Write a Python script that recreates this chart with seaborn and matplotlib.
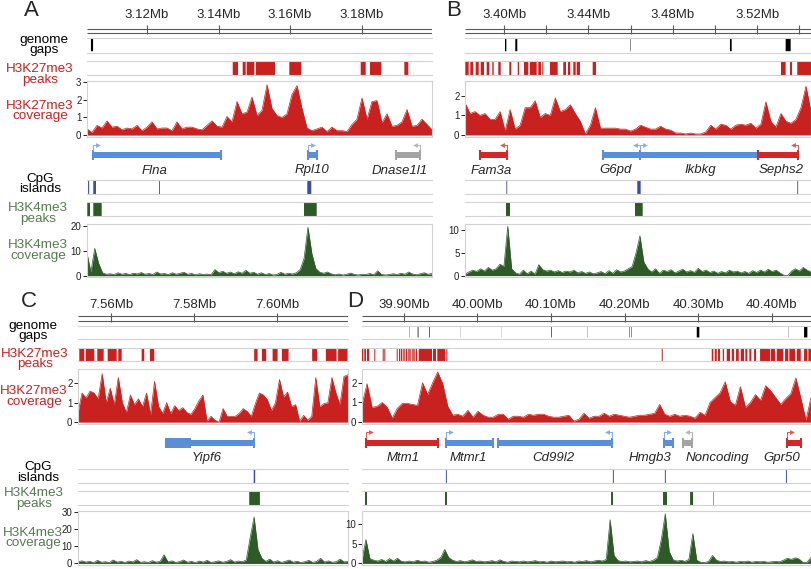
import numpy as np
import matplotlib
matplotlib.use("Agg")
import matplotlib.pyplot as plt
from matplotlib.patches import Rectangle
import seaborn as sns

# ---------------- data (positions in Mb) ----------------
a_window = (3.1032, 3.1997)
b_window = (3.3815, 3.5455)
c_window = (7.5520, 7.6171)
d_window = (39.8429, 40.4537)

a_ticks = [3.12, 3.14, 3.16, 3.18]
a_tick_labels = ["3.12Mb", "3.14Mb", "3.16Mb", "3.18Mb"]
b_ticks = [3.40, 3.42, 3.44, 3.46, 3.48, 3.50, 3.52, 3.54]
b_tick_labels = ["3.40Mb", "", "3.44Mb", "", "3.48Mb", "", "3.52Mb", ""]
c_ticks = [7.56, 7.58, 7.60]
c_tick_labels = ["7.56Mb", "7.58Mb", "7.60Mb"]
d_ticks = [39.90, 40.00, 40.10, 40.20, 40.30, 40.40]
d_tick_labels = ["39.90Mb", "40.00Mb", "40.10Mb", "40.20Mb", "40.30Mb", "40.40Mb"]

# genome gaps
a_gap_start = [3.1043]
a_gap_end = [3.1049]
b_gap_start = [3.40046, 3.40534, 3.45984, 3.50709, 3.53349]
b_gap_end = [3.40110, 3.40629, 3.46004, 3.50789, 3.53586]
c_gap_start = []
c_gap_end = []
d_gap_start = [39.90725, 39.91868, 39.93447, 39.97718, 40.03297, 40.10004, 40.14997,
               40.20657, 40.20888, 40.29827, 40.42290, 40.44426]
d_gap_end = [39.90765, 39.91968, 39.93527, 39.97738, 40.03317, 40.10084, 40.15027,
             40.20717, 40.20948, 40.30181, 40.42320, 40.44875]

# H3K27me3 peaks
a_k27_peak_start = [3.14396, 3.14675, 3.14787, 3.15047, 3.15979, 3.17976, 3.18236, 3.19196]
a_k27_peak_end = [3.14544, 3.14759, 3.15000, 3.15579, 3.16314, 3.18116, 3.18552, 3.19307]
b_k27_peak_start = [3.38164, 3.38401, 3.38657, 3.38894, 3.39178, 3.39444, 3.39728, 3.40250,
                    3.40648, 3.40946, 3.41231, 3.41624, 3.41813, 3.42178, 3.42809, 3.43031,
                    3.43283, 3.43444, 3.44202, 3.53126, 3.53553, 3.53899]
b_k27_peak_end = [3.38325, 3.38543, 3.38799, 3.39050, 3.39302, 3.39510, 3.39842, 3.40344,
                  3.40709, 3.41150, 3.41548, 3.41752, 3.41861, 3.42543, 3.42937, 3.43140,
                  3.43396, 3.43600, 3.44358, 3.53349, 3.53648, 3.54582]
c_k27_peak_start = [7.55231, 7.55386, 7.55665, 7.55916, 7.56171, 7.56735, 7.56935, 7.59448,
                    7.59634, 7.59892, 7.60116, 7.60846, 7.61176, 7.61472]
c_k27_peak_end = [7.55352, 7.55593, 7.55819, 7.56133, 7.56253, 7.56798, 7.57039, 7.59530,
                  7.59737, 7.60012, 7.60277, 7.60966, 7.61434, 7.61699]
d_k27_peak_start = [39.8429, 39.84603, 39.8497, 39.85963, 39.87106, 39.87324, 39.89011, 39.89324,
                    39.89596, 39.89827, 39.90045, 39.90276, 39.90508, 39.90725, 39.91052, 39.9127,
                    39.91596, 39.92004, 39.9395, 39.94535, 39.95759, 40.25066, 40.31868, 40.32276,
                    40.32725, 40.33365, 40.3391, 40.34589, 40.35174, 40.35814, 40.3644, 40.36984,
                    40.37623, 40.3844, 40.39895, 40.40712, 40.41841, 40.42426, 40.43433, 40.44426,
                    40.45011]
d_k27_peak_end = [39.84467, 39.84834, 39.85283, 39.861, 39.87242, 39.8746, 39.89147, 39.89501,
                  39.89732, 39.89963, 39.90181, 39.90412, 39.90644, 39.90916, 39.91188, 39.9146,
                  39.91773, 39.93814, 39.94358, 39.95623, 39.95895, 40.25202, 40.32086, 40.32549,
                  40.32997, 40.33542, 40.34358, 40.34902, 40.35542, 40.36263, 40.36712, 40.37256,
                  40.37895, 40.398, 40.4048, 40.4161, 40.4229, 40.43202, 40.43977, 40.44875,
                  40.45378]

# H3K27me3 coverage (evenly spaced bins across each window)
a_k27_cov = [0.35, 0.15, 0.55, 0.4, 0.8, 0.45, 0.5, 0.3, 0.4, 0.35,
             0.55, 0.25, 0.45, 0.75, 0.35, 0.4, 0.4, 0.25, 0.75, 0.35,
             0.45, 0.45, 0.35, 0.3, 0.55, 0.8, 0.5, 0.45, 1.05, 0.75,
             1.9, 1.2, 1.3, 2.15, 1.1, 1.4, 2.85, 1.5, 1.1, 1.0,
             1.2, 2.3, 2.8, 1.5, 0.4, 0.25, 0.35, 0.45, 0.2, 0.45,
             0.25, 0.25, 0.2, 0.6, 0.9, 2.1, 0.9, 1.9, 1.95, 0.7,
             1.2, 0.5, 0.55, 0.75, 1.45, 0.5, 0.55, 0.9, 0.6, 0.3]
b_k27_cov = [1.65, 1.1, 1.2, 1.0, 1.1, 0.8, 0.8, 1.2, 0.2, 1.3,
             0.3, 0.5, 1.4, 1.4, 1.75, 0.9, 1.1, 1.0, 1.9, 1.2,
             1.3, 1.55, 1.1, 0.7, 0.05, 0.5, 1.4, 0.35, 0.35, 0.35,
             0.35, 0.3, 0.3, 0.2, 0.3, 0.5, 0.4, 0.3, 0.3, 0.45,
             0.3, 0.25, 0.1, 0.1, 0.05, 0.1, 0.05, 0.05, 0.15, 0.5,
             0.3, 0.55, 0.5, 0.3, 0.5, 0.55, 0.5, 0.6, 0.35, 0.55,
             1.7, 0.7, 0.4, 1.1, 0.7, 0.6, 0.8, 1.4, 2.5, 1.2]
c_k27_cov = [0.5, 1.5, 1.25, 1.6, 1.5, 1.2, 2.5, 1.0, 1.75, 0.9,
             2.3, 1.0, 0.5, 1.4, 0.9, 1.2, 0.8, 1.5, 0.4, 2.1,
             0.8, 0.45, 1.0, 0.45, 0.85, 0.6, 0.75, 0.5, 0.4, 0.7,
             1.1, 1.4, 0.05, 0.3, 0.1, 0.0, 0.7, 0.3, 0.3, 0.3,
             0.45, 0.7, 0.55, 0.3, 0.95, 1.5, 1.4, 1.15, 0.6, 1.0,
             2.2, 1.3, 1.55, 0.8, 0.9, 0.05, 0.35, 0.1, 0.3, 2.3,
             0.8, 0.95, 1.0, 2.3, 1.5, 0.9, 2.35, 2.45]
d_k27_cov = [0.9, 1.95, 0.75, 0.8, 1.0, 0.75, 0.2, 0.7, 0.95, 0.95,
             0.9, 0.85, 2.0, 1.4, 2.0, 2.55, 1.95, 0.8, 0.35, 0.4,
             0.3, 0.6, 0.25, 0.55, 0.35, 0.25, 0.25, 0.4, 0.4, 0.15,
             0.3, 0.3, 0.25, 0.4, 0.35, 0.4, 0.4, 0.3, 0.25, 0.25,
             0.3, 0.35, 0.05, 0.15, 0.45, 0.2, 0.3, 0.3, 0.45, 0.3,
             0.4, 0.35, 0.3, 0.25, 0.3, 0.35, 0.35, 0.4, 0.45, 0.9,
             0.4, 0.3, 0.4, 0.3, 0.35, 0.3, 0.2, 0.5, 0.35, 1.0,
             1.25, 1.5, 2.05, 1.05, 0.85, 1.8, 0.75, 1.0, 1.4, 1.1,
             1.85, 1.6, 1.25, 0.9, 1.2, 1.45, 2.25, 1.2, 0.1, 1.25]

# genes
a_gene_name = ["Flna", "Rpl10", "Dnase1l1"]
a_gene_start = [3.10496, 3.16511, 3.18955]
a_gene_end = [3.14060, 3.16745, 3.19635]
a_gene_strand = [1, 1, -1]
a_gene_group = ["blue", "blue", "grey"]
a_gene_label_pos = [3.12222, 3.16605, 3.19075]
b_gene_name = ["Fam3a", "G6pd", "Ikbkg", "Sephs2"]
b_gene_start = [3.38861, 3.44676, 3.46444, 3.52051]
b_gene_end = [3.40126, 3.46444, 3.52051, 3.53947]
b_gene_strand = [-1, -1, 1, -1]
b_gene_group = ["red", "blue", "blue", "red"]
b_gene_label_pos = [3.39415, 3.45292, 3.49288, 3.53112]
c_gene_name = ["Yipf6"]
c_gene_start = [7.57320]
c_gene_end = [7.59448]
c_gene_strand = [-1]
c_gene_group = ["blue"]
c_gene_label_pos = [7.58301]
c_utr_start = [7.57320]
c_utr_end = [7.57923]
d_gene_name = ["Mtm1", "Mtmr1", "Cd99l2", "Hmgb3", "Noncoding", "Gpr50"]
d_gene_start = [39.84834, 39.95719, 40.02793, 40.25378, 40.27963, 40.42113]
d_gene_end = [39.94630, 40.02113, 40.18304, 40.26603, 40.29188, 40.44018]
d_gene_strand = [1, 1, -1, 1, -1, 1]
d_gene_group = ["red", "blue", "blue", "blue", "grey", "red"]
d_gene_label_pos = [39.89868, 39.98712, 40.10276, 40.23474, 40.32589, 40.41433]

# CpG islands
a_cpg_start = [3.10350, 3.10496, 3.12338, 3.16482]
a_cpg_end = [3.10380, 3.10572, 3.12362, 3.16594]
b_cpg_start = [3.40110, 3.46316, 3.53900]
b_cpg_end = [3.40150, 3.46476, 3.53940]
c_cpg_start = [7.59436]
c_cpg_end = [7.59472]
d_cpg_start = [39.95700, 40.18420, 40.25490, 40.41960]
d_cpg_end = [39.95830, 40.18550, 40.25620, 40.42090]

# H3K4me3 peaks
a_k4_peak_start = [3.10328, 3.10496, 3.16390]
a_k4_peak_end = [3.10404, 3.10731, 3.16745]
b_k4_peak_start = [3.40093, 3.46207]
b_k4_peak_end = [3.40283, 3.46572]
c_k4_peak_start = [7.59328]
c_k4_peak_end = [7.59586]
d_k4_peak_start = [39.84700, 39.95580, 40.18170, 40.25240, 40.28920, 40.32040]
d_k4_peak_end = [39.84970, 39.95850, 40.18440, 40.25780, 40.29330, 40.32110]

# H3K4me3 coverage
a_k4_cov = [9, 1.5, 11, 5, 1.2, 0.6, 0.8, 0.5, 1.2, 0.6,
            0.9, 0.5, 1.0, 0.7, 1.3, 0.6, 0.9, 0.5, 1.5, 0.7,
            0.9, 0.5, 1.2, 0.6, 1.0, 1.4, 0.6, 0.9, 0.4, 0.8,
            0.5, 0.7, 0.4, 2.5, 1.2, 1.8, 1.0, 1.5, 0.8, 1.6,
            1.0, 2.2, 1.0, 1.4, 0.6, 1.2, 0.5, 0.9, 0.3, 0.5,
            1.4, 0.6, 1.0, 0.7, 1.2, 2.5, 7, 19.5, 9, 3,
            1.5, 1.0, 1.5, 0.8, 0.4, 0.7, 0.3, 0.6, 1.1, 0.5,
            0.3, 0.6, 0.5, 0.9, 0.4, 2.0, 0.5, 0.3, 0.5, 0.8,
            0.5, 1.0, 0.6, 1.5, 0.7, 0.4, 0.8, 1.2, 0.6, 0.9]
b_k4_cov = [0.3, 0.8, 1.2, 0.9, 1.5, 1.0, 1.8, 1.2, 1.5, 2.5,
            2.0, 10.8, 1.5, 0.6, 0.3, 1.2, 0.4, 1.0, 0.3, 2.4,
            1.3, 1.0, 1.2, 0.8, 1.1, 0.7, 1.0, 0.8, 1.2, 0.6,
            0.9, 0.5, 0.8, 0.4, 0.6, 0.9, 0.4, 1.1, 0.5, 1.3,
            0.8, 1.0, 1.5, 2.0, 5.0, 8.7, 3.0, 1.5, 0.8, 1.5,
            0.5, 1.2, 0.9, 1.3, 0.6, 1.0, 1.4, 0.8, 1.1, 0.7,
            1.6, 0.9, 1.2, 0.7, 1.0, 0.5, 0.9, 0.6, 1.2, 0.8,
            1.0, 0.6, 0.9, 0.5, 1.1, 0.7, 1.2, 0.8, 1.4, 0.9,
            1.2, 0.6, 0.1, 0.0, 1.0, 1.5, 1.0, 1.8, 1.2, 0.8]
c_k4_cov = [1.0, 1.5, 0.8, 1.2, 0.5, 1.8, 0.7, 1.0, 0.5, 2.0,
            0.8, 1.2, 0.6, 1.4, 0.9, 2.2, 0.7, 1.0, 0.5, 1.6,
            0.8, 1.2, 5.0, 0.9, 1.5, 0.6, 1.1, 2.0, 0.7, 1.2,
            0.5, 1.4, 0.8, 1.8, 0.6, 1.0, 1.5, 0.7, 1.2, 2.2,
            0.8, 1.4, 1.0, 2.0, 15, 27, 8, 3.0, 1.2, 2.5,
            0.8, 1.6, 0.6, 1.2, 2.0, 0.7, 1.3, 0.5, 1.0, 1.8,
            0.6, 1.2, 3.0, 0.8, 1.5, 0.7, 1.0, 2.5, 0.9, 1.2]
d_k4_cov = [1.0, 6.0, 1.2, 0.8, 0.6, 1.0, 0.5, 1.2, 0.6, 1.3,
            0.5, 0.4, 0.6, 0.4, 0.8, 0.5, 0.6, 0.3, 0.5, 0.8,
            1.5, 3.5, 1.5, 0.8, 0.5, 0.7, 0.4, 0.6, 0.9, 0.5,
            0.6, 0.4, 0.5, 0.7, 0.4, 0.9, 0.5, 0.3, 0.6, 0.5,
            0.4, 0.6, 0.4, 0.5, 0.7, 0.4, 0.5, 0.3, 0.6, 0.4,
            0.5, 0.6, 0.4, 0.5, 0.3, 0.6, 0.5, 0.7, 0.4, 0.6,
            0.8, 0.6, 1.0, 11.0, 2.0, 0.7, 0.5, 0.6, 0.4, 0.5,
            0.6, 0.4, 0.7, 0.5, 0.8, 1.5, 6.0, 12.5, 3.0, 0.9,
            0.6, 0.8, 0.5, 1.0, 7.5, 0.8, 0.3, 0.2, 0.5, 2.0,
            0.8, 0.5, 0.6, 0.4, 0.5, 0.3, 0.5, 0.4, 0.6, 0.3,
            0.5, 0.4, 0.5, 0.3, 0.4, 0.5, 0.4, 0.8, 1.3, 1.0,
            1.4, 1.1, 0.2, 0.3, 1.5]

# ---------------- style ----------------
RED = "#c8211f"
GREEN = "#2e5a28"
GREEN_TXT = "#557b50"
CPG = "#3c4ca4"
FRAME = "#d2d2d2"
RULER = "#5a5a5a"
GENE_COLORS = {"blue": "#5b8ed6", "red": "#cc2a2a", "grey": "#a3a3a3"}
ARROW_COLORS = {"blue": "#8aaee0", "red": "#d95c5c", "grey": "#b8b8b8"}

W, H = 812, 569
sns.set_theme(style="ticks")
plt.rcParams["font.family"] = ["Liberation Sans", "DejaVu Sans"]

fig = plt.figure(figsize=(W / 100, H / 100), dpi=100)

ROWS = {
    "top": dict(ruler=(5, 36), rl=(28.5, 32.5), tick=(25, 33.5), tlab=15.5,
                gaps=(38, 53), k27p=(61, 75), k27c=(81, 136.5), genes=(138, 178),
                cpg=(180, 194), k4p=(202, 216), k4c=(224, 277)),
    "bottom": dict(ruler=(292, 324), rl=(316, 321), tick=(313, 321.5), tlab=304.5,
                   gaps=(326, 339), k27p=(347.5, 361), k27c=(369, 423.5), genes=(426, 466),
                   cpg=(469, 483), k4p=(491, 505), k4c=(511, 565)),
}


def px_axes(x0, x1, y0, y1):
    return fig.add_axes([x0 / W, 1 - y1 / H, (x1 - x0) / W, (y1 - y0) / H])


def draw_ruler(ax, win, ticks, labels, r):
    ax.set_xlim(win)
    ax.set_ylim(r["ruler"][1], r["ruler"][0])
    ax.axis("off")
    for y in r["rl"]:
        ax.plot(win, [y, y], color=RULER, lw=0.8, solid_capstyle="butt")
    ax.vlines(ticks, r["tick"][0], r["tick"][1], color=RULER, lw=0.8)
    for t, lab in zip(ticks, labels):
        if lab:
            ax.text(t, r["tlab"], lab, ha="center", va="center", fontsize=9.5)


def draw_blocks(ax, win, starts, ends, color, lo=0.0, hi=1.0):
    ax.set_xlim(win)
    ax.set_ylim(0, 1)
    ax.axis("off")
    for y in (0, 1):
        ax.axhline(y, color=FRAME, lw=0.8, clip_on=False)
    starts = np.asarray(starts, float)
    ends = np.asarray(ends, float)
    if len(starts):
        ax.bar(starts, hi - lo, width=ends - starts, bottom=lo, align="edge",
               color=color, linewidth=0, snap=False)


def draw_cov(ax, win, values, color, ylim, yticks):
    x = np.linspace(win[0], win[1], len(values))
    ax.fill_between(x, 0, values, color=color, lw=0)
    sns.lineplot(x=x, y=values, ax=ax, color=color, lw=0.5)
    ax.set_xlim(win)
    ax.set_ylim(ylim)
    ax.set_xticks([])
    ax.set_yticks(yticks)
    ax.set_yticklabels([str(t) for t in yticks])
    ax.set_xlabel("")
    ax.set_ylabel("")
    ax.tick_params(axis="y", length=3, width=0.7, pad=1, labelsize=7, colors="#222222")
    for s in ax.spines.values():
        s.set_color(FRAME)
        s.set_linewidth(0.8)


def draw_genes(ax, win, width_px, g, y0, y1, utr=None):
    ax.set_xlim(win)
    ax.set_ylim(y1, y0)
    ax.axis("off")
    per_px = (win[1] - win[0]) / width_px
    body = y0 + 17
    arrow_y = y0 + 6.5
    if utr is not None:
        for s, e in zip(*utr):
            ax.add_patch(Rectangle((s, body - 5), e - s, 10, color=GENE_COLORS["blue"], lw=0))
    for n, s, e, st, grp, lx in zip(*g):
        col = GENE_COLORS[grp]
        acol = ARROW_COLORS[grp]
        ax.add_patch(Rectangle((s, body - 3), e - s, 6, color=col, lw=0))
        ax.vlines([s, e], body - 5, body + 5, color=col, lw=1.5)
        tss = s if st > 0 else e
        tip = tss + st * 5 * per_px
        ax.plot([tss, tss, tip], [body - 5, arrow_y, arrow_y], color=acol, lw=0.8)
        ax.plot([tip], [arrow_y], marker=">" if st > 0 else "<", ms=3.5, color=acol, mew=0)
        ax.text(lx, y0 + 32.5, n, ha="center", va="center", fontsize=9.5, style="italic")


panels = [
    dict(letter="A", xy=(31, 11), row="top", x0=87, x1=432, win=a_window,
         ticks=(a_ticks, a_tick_labels), gaps=(a_gap_start, a_gap_end),
         k27p=(a_k27_peak_start, a_k27_peak_end), k27c=a_k27_cov,
         k27_ylim=(-0.08, 3.06), k27_yt=[0, 1, 2, 3],
         genes=(a_gene_name, a_gene_start, a_gene_end, a_gene_strand, a_gene_group, a_gene_label_pos),
         cpg=(a_cpg_start, a_cpg_end), k4p=(a_k4_peak_start, a_k4_peak_end), k4c=a_k4_cov,
         k4_ylim=(-0.5, 20.8), k4_yt=[0, 10, 20]),
    dict(letter="B", xy=(454, 11), row="top", x0=465, x1=811, win=b_window,
         ticks=(b_ticks, b_tick_labels), gaps=(b_gap_start, b_gap_end),
         k27p=(b_k27_peak_start, b_k27_peak_end), k27c=b_k27_cov,
         k27_ylim=(-0.08, 2.77), k27_yt=[0, 1, 2],
         genes=(b_gene_name, b_gene_start, b_gene_end, b_gene_strand, b_gene_group, b_gene_label_pos),
         cpg=(b_cpg_start, b_cpg_end), k4p=(b_k4_peak_start, b_k4_peak_end), k4c=b_k4_cov,
         k4_ylim=(-0.3, 11.3), k4_yt=[0, 5, 10]),
    dict(letter="C", xy=(29, 302), row="bottom", x0=78, x1=348, win=c_window,
         ticks=(c_ticks, c_tick_labels), gaps=(c_gap_start, c_gap_end),
         k27p=(c_k27_peak_start, c_k27_peak_end), k27c=c_k27_cov,
         k27_ylim=(-0.07, 2.74), k27_yt=[0, 1, 2],
         genes=(c_gene_name, c_gene_start, c_gene_end, c_gene_strand, c_gene_group, c_gene_label_pos),
         utr=(c_utr_start, c_utr_end),
         cpg=(c_cpg_start, c_cpg_end), k4p=(c_k4_peak_start, c_k4_peak_end), k4c=c_k4_cov,
         k4_ylim=(-0.9, 30.5), k4_yt=[0, 10, 20, 30]),
    dict(letter="D", xy=(355, 302), row="bottom", x0=362, x1=811, win=d_window,
         ticks=(d_ticks, d_tick_labels), gaps=(d_gap_start, d_gap_end),
         k27p=(d_k27_peak_start, d_k27_peak_end), k27c=d_k27_cov,
         k27_ylim=(-0.07, 2.7), k27_yt=[0, 1, 2],
         genes=(d_gene_name, d_gene_start, d_gene_end, d_gene_strand, d_gene_group, d_gene_label_pos),
         cpg=(d_cpg_start, d_cpg_end), k4p=(d_k4_peak_start, d_k4_peak_end), k4c=d_k4_cov,
         k4_ylim=(-0.4, 13.2), k4_yt=[0, 5, 10]),
]

for p in panels:
    r = ROWS[p["row"]]
    x0, x1, win = p["x0"], p["x1"], p["win"]
    draw_ruler(px_axes(x0, x1, *r["ruler"]), win, p["ticks"][0], p["ticks"][1], r)
    draw_blocks(px_axes(x0, x1, *r["gaps"]), win, *p["gaps"], "black", 0.12, 0.94)
    draw_blocks(px_axes(x0, x1, *r["k27p"]), win, *p["k27p"], RED)
    draw_cov(px_axes(x0, x1, *r["k27c"]), win, p["k27c"], RED, p["k27_ylim"], p["k27_yt"])
    draw_genes(px_axes(x0, x1, *r["genes"]), win, x1 - x0, p["genes"], *r["genes"], utr=p.get("utr"))
    draw_blocks(px_axes(x0, x1, *r["cpg"]), win, *p["cpg"], CPG)
    draw_blocks(px_axes(x0, x1, *r["k4p"]), win, *p["k4p"], GREEN)
    draw_cov(px_axes(x0, x1, *r["k4c"]), win, p["k4c"], GREEN, p["k4_ylim"], p["k4_yt"])
    fig.text(p["xy"][0] / W, 1 - p["xy"][1] / H, p["letter"], fontsize=16,
             ha="center", va="center")

# track labels on the left of panels A and C
track_labels = [
    ("genome\ngaps", "black", (44, 45), (33, 331)),
    ("H3K27me3\npeaks", RED, (40, 74.5), (35, 359)),
    ("H3K27me3\ncoverage", RED, (40, 111), (34, 396.5)),
    ("CpG\nislands", "black", (40, 184), (38, 472.5)),
    ("H3K4me3\npeaks", GREEN_TXT, (38, 213.5), (34, 498.5)),
    ("H3K4me3\ncoverage", GREEN_TXT, (38, 250.5), (33, 538)),
]
for text, color, pa, pc in track_labels:
    for x, y in (pa, pc):
        fig.text(x / W, 1 - y / H, text, ha="center", va="center", color=color,
                 fontsize=9.7, linespacing=0.88)

fig.savefig("out.png", dpi=100)
